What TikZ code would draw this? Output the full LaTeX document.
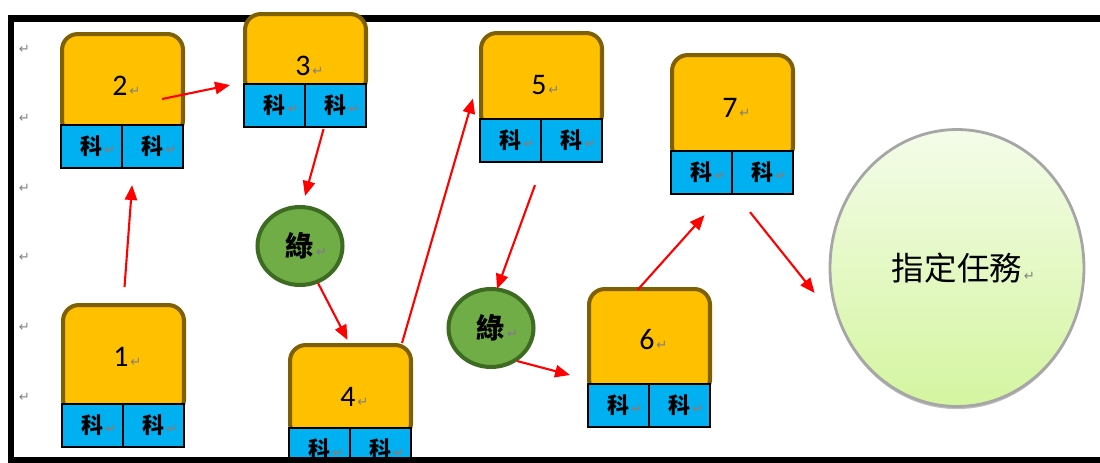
\documentclass[tikz,border=0pt]{standalone}
\usepackage{fontspec}
\usepackage{xcolor}
\setmainfont{Carlito}
\newfontfamily\cjk{Noto Sans CJK TC}
\newfontfamily\markfont{DejaVu Sans}
\usetikzlibrary{arrows.meta, shapes.geometric, positioning, calc, shadows}

\definecolor{boxorange}{HTML}{FFC000}
\definecolor{boxbrown}{HTML}{7F6000}
\definecolor{cellblue}{HTML}{00B0F0}
\definecolor{leafgreen}{HTML}{70AD47}
\definecolor{leafdark}{HTML}{3D6B22}
\definecolor{tasktop}{HTML}{F4FCE9}
\definecolor{taskbot}{HTML}{D4F5A0}

\newcommand{\ret}{\rlap{\kern1pt\markfont\fontsize{7.5}{7.5}\selectfont\color{gray}↵}}

\begin{document}
\begin{tikzpicture}[x=0.02cm, y=-0.02cm,
    block/.style={rectangle, rounded corners=9pt, draw=boxbrown, line width=2.3pt, fill=boxorange, minimum width=2.42cm, anchor=north west, inner sep=0pt},
    cell/.style={rectangle, draw=black, line width=1.2pt, fill=cellblue, minimum width=1.22cm, minimum height=0.86cm, anchor=north west, inner sep=0pt, font=\cjk\bfseries\fontsize{12.5}{12.5}\selectfont},
    num/.style={font=\fontsize{17}{17}\selectfont, inner sep=0pt},
    leaf/.style={ellipse, draw=leafdark, line width=2.3pt, fill=leafgreen, minimum width=1.7cm, minimum height=1.56cm, inner sep=0pt, font=\cjk\bfseries\fontsize{16}{16}\selectfont},
    task/.style={ellipse, draw=gray!70, line width=1.6pt, top color=tasktop, bottom color=taskbot, minimum width=5.08cm, minimum height=5.54cm, inner sep=0pt, font=\cjk\fontsize{18.5}{18.5}\selectfont, drop shadow={shadow xshift=0pt, shadow yshift=-1.5pt, fill=gray, opacity=0.5}},
    frame/.style={line width=3.5pt, line cap=rect},
    arr/.style={draw=red, line width=1.2pt, -{Triangle[length=8.5pt, width=7pt]}}]

    \useasboundingbox (0,0) rectangle (1100,463);

    % frame, top and left side (behind the blocks)
    \draw[frame] (1115,18.5) -- (11,18.5) -- (11,460);

    % margin marks
    \foreach \y in {49,118,188,257,327,397}
        \node[inner sep=0pt] (m\y) at (17,\y) {\ret};

    % blocks: name/left/top/cells top/label y
    \foreach \n/\L/\T/\B/\Y in {1/61/303/403/357, 2/60/32/124/86, 3/243/12/83/66, 4/288/343/427/397, 5/479/31/118/85, 6/587/287/383/340, 7/670/53/150/108}{
        \node[block, minimum height={(\B-\T+10)*0.02cm}] (k\n) at (\L,\T) {};
        \node[num] (n\n) at (\L+60,\Y) {\n\ret};
        \node[cell] (k\n a) at (\L,\B) {科\ret};
        \node[cell] (k\n b) at (\L+61,\B) {科\ret};
    }

    \node[leaf] (g1) at (300,246) {綠\ret};
    \node[leaf] (g2) at (491,328) {綠\ret};
    \node[task] (task) at (957,268) {指定任務\ret};

    \draw[arr] ($(k1.north)+(1,-16)$) -- ($(k2a.south east)+(9,16)$);
    \draw[arr] ($(k2.east)+(-23,14)$) -- ($(k3a.north west)+(-13,2)$);
    \draw[arr] ($(k3b.south)+(-12,1)$) -- ($(g1.north)+(5,-9)$);
    \draw[arr] ($(g1.south)+(18,-4)$) -- ($(k4.north)+(-3,-3)$);
    \draw[arr] ($(k4.north east)+(-11,0)$) -- ($(k5.west)+(-6,17)$);
    \draw[arr] ($(k5b.south west)+(-5,22)$) -- ($(g2.north)+(6,2)$);
    \draw[arr] ($(g2.south)+(26,-8)$) -- ($(k6a.north west)+(-17,-8)$);
    \draw[arr] ($(k6.north)+(-12,3)$) -- ($(k7a.south)+(3,20)$);
    \draw[arr] ($(k7b.south west)+(19,17)$) -- ($(task.west)+(-14,25)$);

    % frame, bottom side
    \draw[frame] (11,460) -- (1115,460);

\end{tikzpicture}
\end{document}
